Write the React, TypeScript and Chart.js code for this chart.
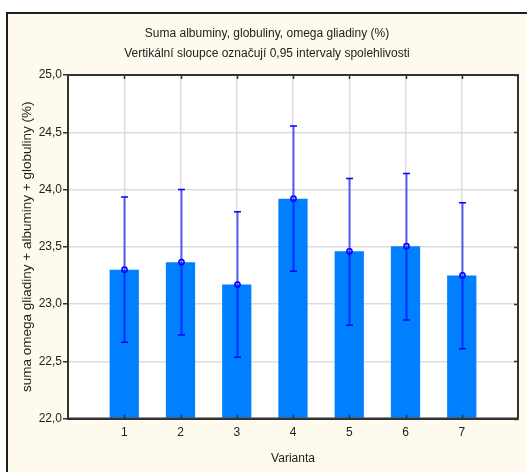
import React, { useEffect, useRef } from 'react';
import { Chart, registerables } from 'chart.js';

Chart.register(...registerables);

const categories = [1, 2, 3, 4, 5, 6, 7];
const means = [23.3, 23.365, 23.17, 23.92, 23.46, 23.505, 23.25];
const lowerCI = [22.665, 22.73, 22.535, 23.285, 22.815, 22.86, 22.61];
const upperCI = [23.935, 24.0, 23.805, 24.555, 24.095, 24.14, 23.885];
const titleLines = [
  'Suma albuminy, globuliny, omega gliadiny (%)',
  'Vertikální sloupce označují 0,95 intervaly spolehlivosti',
];
const yAxisTitle = 'suma omega gliadiny + albuminy + globuliny (%)';
const xAxisTitle = 'Varianta';
const yMin = 22;
const yMax = 25;
const yStep = 0.5;
const xMin = 0;
const xMax = 8;

const FONT = '"Liberation Sans", Arial, sans-serif';
const TEXT = '#222222';

const framePlugin = {
  id: 'frame',
  beforeDraw(chart: any) {
    const { ctx, width, height, chartArea } = chart;
    ctx.save();
    ctx.fillStyle = '#ffffff';
    ctx.fillRect(0, 0, width, height);
    ctx.fillStyle = '#fffaee';
    ctx.fillRect(8, 14, width - 8, height - 14);
    ctx.fillStyle = '#1e1e1e';
    ctx.fillRect(6, 12, width - 6, 2);
    ctx.fillRect(6, 12, 2, height - 12);
    ctx.fillStyle = '#ffffff';
    ctx.fillRect(chartArea.left, chartArea.top, chartArea.right - chartArea.left, chartArea.bottom - chartArea.top);
    ctx.restore();
  },
  afterDatasetsDraw(chart: any) {
    const { ctx, scales } = chart;
    const xs = scales.x;
    const ys = scales.y;
    ctx.save();
    for (let i = 0; i < categories.length; i++) {
      const x = Math.round(xs.getPixelForValue(categories[i])) + 0.5;
      const yHi = ys.getPixelForValue(upperCI[i]);
      const yLo = ys.getPixelForValue(lowerCI[i]);
      const yM = ys.getPixelForValue(means[i]);
      ctx.strokeStyle = 'rgba(0,0,255,0.62)';
      ctx.lineWidth = 2;
      ctx.beginPath();
      ctx.moveTo(x, yHi);
      ctx.lineTo(x, yLo);
      ctx.stroke();
      ctx.strokeStyle = '#0000ff';
      ctx.lineWidth = 1.5;
      ctx.beginPath();
      ctx.moveTo(x - 3.5, yHi);
      ctx.lineTo(x + 3.5, yHi);
      ctx.moveTo(x - 3.5, yLo);
      ctx.lineTo(x + 3.5, yLo);
      ctx.stroke();
      ctx.beginPath();
      ctx.arc(x, yM, 2.6, 0, Math.PI * 2);
      ctx.stroke();
    }
    ctx.restore();
  },
  afterDraw(chart: any) {
    const { ctx, chartArea, scales } = chart;
    const { left, right, top, bottom } = chartArea;
    ctx.save();
    ctx.strokeStyle = '#333333';
    ctx.lineWidth = 1.5;
    ctx.beginPath();
    for (const c of categories) {
      const x = Math.round(scales.x.getPixelForValue(c)) + 0.5;
      ctx.moveTo(x, top);
      ctx.lineTo(x, top + 4);
      ctx.moveTo(x, bottom);
      ctx.lineTo(x, bottom - 4);
    }
    for (let v = yMin; v <= yMax + 1e-9; v += yStep) {
      const y = Math.round(scales.y.getPixelForValue(v)) + 0.5;
      ctx.moveTo(right, y);
      ctx.lineTo(right - 4, y);
    }
    ctx.stroke();
    ctx.lineWidth = 2;
    ctx.strokeRect(left, top, right - left, bottom - top);
    ctx.restore();
  },
};

export default function App() {
  const canvasRef = useRef<HTMLCanvasElement | null>(null);

  useEffect(() => {
    const canvas = canvasRef.current;
    if (!canvas) return;
    const chart = new Chart(canvas, {
      type: 'bar',
      data: {
        datasets: [
          {
            data: categories.map((c, i) => ({ x: c, y: means[i] })),
            backgroundColor: '#0080ff',
            borderWidth: 0,
            barPercentage: 0.52,
            categoryPercentage: 1,
            base: yMin,
          } as any,
        ],
      },
      options: {
        animation: false,
        responsive: false,
        maintainAspectRatio: false,
        devicePixelRatio: 1,
        layout: { padding: { left: 16, right: 9, top: 0, bottom: 0 } },
        plugins: {
          legend: { display: false },
          tooltip: { enabled: false },
          title: {
            display: true,
            text: titleLines,
            color: TEXT,
            font: { family: FONT, size: 12, weight: 'normal', lineHeight: 20 / 12 },
            padding: { top: 24, bottom: 11 },
          },
        },
        scales: {
          x: {
            type: 'linear',
            min: xMin,
            max: xMax,
            offset: false,
            afterFit(scale: any) {
              scale.height = 53.5;
            },
            ticks: {
              stepSize: 1,
              autoSkip: false,
              maxRotation: 0,
              color: TEXT,
              font: { family: FONT, size: 12 },
              padding: 7,
              callback: (v: any) => (categories.includes(Number(v)) ? String(v) : ''),
            },
            grid: {
              offset: false,
              color: '#dddddd',
              lineWidth: 1.5,
              drawTicks: false,
            },
            border: { display: true, color: '#333333', width: 2 },
            title: {
              display: true,
              text: xAxisTitle,
              color: TEXT,
              font: { family: FONT, size: 12 },
              padding: { top: 0, bottom: 6 },
            },
          },
          y: {
            type: 'linear',
            min: yMin,
            max: yMax,
            afterFit(scale: any) {
              scale.width = 52;
            },
            ticks: {
              stepSize: yStep,
              color: TEXT,
              font: { family: FONT, size: 12 },
              padding: 1,
              callback: (v: any) => Number(v).toFixed(1).replace('.', ','),
            },
            grid: {
              color: '#dddddd',
              lineWidth: 1.5,
              tickColor: '#333333',
              tickLength: 5,
              tickWidth: 1.5,
            },
            border: { display: true, color: '#333333', width: 2 },
            title: {
              display: true,
              text: yAxisTitle,
              color: TEXT,
              font: { family: FONT, size: 13.5 },
              padding: { top: 3, bottom: 0 },
            },
          },
        },
      },
      plugins: [framePlugin],
    });
    return () => chart.destroy();
  }, []);

  return (
    <div style={{ position: 'absolute', left: 0, top: 0, width: 527, height: 472 }}>
      <canvas ref={canvasRef} width={527} height={472} style={{ display: 'block', width: 527, height: 472 }} />
    </div>
  );
}
